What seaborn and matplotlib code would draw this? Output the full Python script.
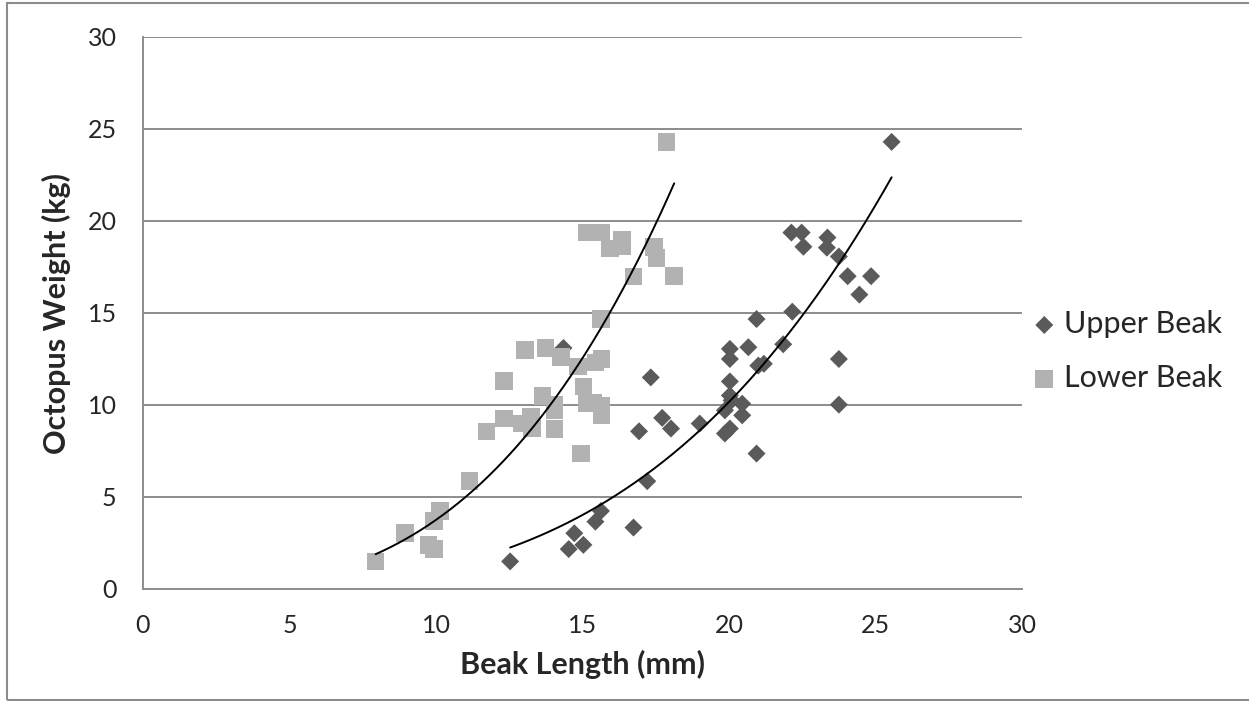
import numpy as np
import pandas as pd
import seaborn as sns
import matplotlib.pyplot as plt
from matplotlib.patches import Rectangle

# data
upper_len = [12.53, 14.53, 14.72, 15.03, 15.44, 15.63, 16.74, 17.21, 16.93, 17.33,
             17.72, 18.02, 14.35, 19.0, 20.03, 20.66, 20.03, 21.85, 21.0, 21.19,
             23.75, 20.03, 20.03, 19.86, 20.45, 20.45, 20.09, 20.03, 19.86, 20.94,
             23.75, 25.55, 22.13, 22.48, 22.54, 23.36, 23.34, 23.75, 24.05, 24.85,
             24.45, 22.16, 20.94]
upper_wt = [1.5, 2.17, 3.03, 2.4, 3.66, 4.24, 3.34, 5.86, 8.57, 11.5,
            9.3, 8.72, 13.1, 8.99, 13.05, 13.14, 12.5, 13.3, 12.14, 12.24,
            12.5, 11.28, 10.52, 9.71, 10.07, 9.44, 10.25, 8.72, 8.45, 7.36,
            10.02, 24.3, 19.37, 19.37, 18.6, 19.1, 18.55, 18.07, 17.0, 17.0,
            16.0, 15.07, 14.67]

lower_len = [7.94, 8.94, 9.74, 9.94, 9.94, 10.14, 11.14, 11.73, 12.33, 12.33,
             12.92, 13.04, 13.24, 13.27, 13.74, 13.64, 14.04, 14.04, 14.04, 14.27,
             14.84, 15.03, 15.14, 14.94, 15.44, 15.65, 15.37, 15.65, 15.65, 17.87,
             15.14, 15.64, 16.34, 16.34, 15.94, 17.44, 17.53, 16.74, 18.13, 15.63]
lower_wt = [1.5, 3.03, 2.4, 2.17, 3.7, 4.24, 5.88, 8.57, 11.3, 9.26,
            8.99, 13.0, 9.35, 8.72, 13.1, 10.5, 10.0, 9.7, 8.7, 12.6,
            12.1, 11.0, 10.07, 7.36, 12.3, 12.5, 10.1, 9.98, 9.47, 24.3,
            19.37, 19.37, 19.0, 18.64, 18.5, 18.6, 18.0, 16.98, 17.0, 14.67]

ticks = [0, 5, 10, 15, 20, 25, 30]

sns.set_style("white")
plt.rcParams['font.family'] = ['Lato', 'DejaVu Sans']

fig = plt.figure(figsize=(12.49, 7.01), dpi=100)
ax = fig.add_axes([143 / 1249, 1 - 589 / 701, (1022 - 143) / 1249, (589 - 37) / 701])

upper = pd.DataFrame({'len': upper_len, 'wt': upper_wt})
lower = pd.DataFrame({'len': lower_len, 'wt': lower_wt})

sns.scatterplot(data=upper, x='len', y='wt', marker='D', s=84, color='#5a5a5a',
                edgecolor='none', label='Upper Beak', ax=ax, zorder=3)
sns.scatterplot(data=lower, x='len', y='wt', marker='s', s=160, color='#b2b2b2',
                edgecolor='none', label='Lower Beak', ax=ax, zorder=3)

# power trendlines (least squares on log-log, like Excel)
for df in (lower, upper):
    b, a = np.polyfit(np.log(df['len']), np.log(df['wt']), 1)
    xs = np.linspace(df['len'].min(), df['len'].max(), 200)
    ax.plot(xs, np.exp(a) * xs ** b, color='black', lw=1.4, zorder=4)

ax.set_xlim(0, 30)
ax.set_ylim(0, 30)
ax.set_xticks(ticks)
ax.set_yticks(ticks)
ax.yaxis.grid(True, color='#8c8c8c', lw=1.4)
ax.set_axisbelow(True)
for side in ('top', 'right'):
    ax.spines[side].set_visible(False)
for side in ('left', 'bottom'):
    ax.spines[side].set_color('#8c8c8c')
    ax.spines[side].set_linewidth(1.4)
ax.tick_params(axis='y', length=7, width=1.2, color='#8c8c8c', pad=12, labelsize=18)
ax.tick_params(axis='x', length=6, width=1.2, color='#8c8c8c', pad=12, labelsize=18)

ax.set_xlabel('Beak Length (mm)', fontsize=22, fontweight='bold', labelpad=9)
ax.set_ylabel('Octopus Weight (kg)', fontsize=22, fontweight='bold', labelpad=12)

ax.legend(loc='center left', bbox_to_anchor=(1029 / 1249, 350 / 701),
          bbox_transform=fig.transFigure, frameon=False, borderpad=0, borderaxespad=0,
          fontsize=22, handlelength=1.0, handletextpad=0.15, labelspacing=0.85,
          markerscale=1.0)

fig.patches.append(Rectangle((7 / 1249, 1 / 701), 1.0, 1 - 4 / 701, transform=fig.transFigure,
                             fill=False, edgecolor='#8c8c8c', lw=1.5))

fig.savefig('out.png', dpi=100)
